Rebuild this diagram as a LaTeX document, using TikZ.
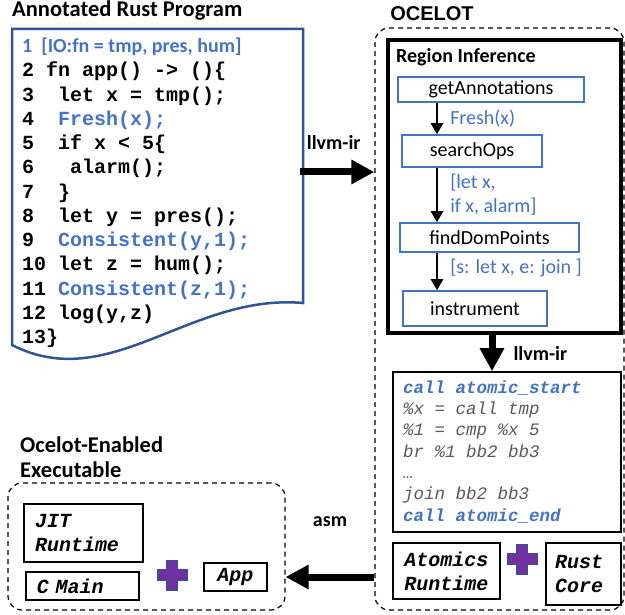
\documentclass[tikz,border=0pt]{standalone}
\usepackage{fontspec}
\setmainfont{Carlito}
\newfontfamily\codefont{Liberation Mono}
\newfontfamily\headfont{Liberation Sans}
\usetikzlibrary{matrix,arrows.meta}

\definecolor{ocblue}{HTML}{4472C4}
\definecolor{docblue}{HTML}{2F5597}
\definecolor{ocpurple}{HTML}{7030A0}
\definecolor{irgray}{HTML}{595959}

\begin{document}
\begin{tikzpicture}[x=1pt, y=-1pt,
  every node/.style={font=\fontsize{20}{24}\selectfont},
  title/.style={font=\bfseries\fontsize{22.5}{25}\selectfont, inner sep=2pt},
  edgelbl/.style={font=\bfseries\fontsize{20}{24}\selectfont, inner sep=0pt},
  stage/.style={draw=ocblue, line width=1.5pt, inner sep=0pt},
  plain/.style={draw, line width=1.5pt, inner sep=0pt},
  group/.style={draw, dash pattern=on 5pt off 4pt, line width=1.2pt, rounded corners=14pt, inner sep=0pt},
  lbl/.style={text=ocblue, inner sep=0pt, align=left},
  mono/.style={font=\codefont\bfseries\itshape\fontsize{20}{24}\selectfont},
  bigarrow/.style={line width=7pt, -{Triangle[length=23pt, width=23pt]}},
  thinarrow/.style={line width=2.5pt, -{Triangle[length=11pt, width=12pt]}},
  pics/plus/.style={code={
    \draw[draw=docblue, fill=ocpurple, line width=1pt]
      (-5.5,-15) -- (5.5,-15) -- (5.5,-5.5) -- (15,-5.5) -- (15,5.5) -- (5.5,5.5)
      -- (5.5,15) -- (-5.5,15) -- (-5.5,5.5) -- (-15,5.5) -- (-15,-5.5) -- (-5.5,-5.5) -- cycle;}}
  ]
  \useasboundingbox (0,0) rectangle (625,615);

  % annotated source
  \node (progtl) [title, anchor=west] at (10,11) {Annotated Rust Program};
  \draw[draw=docblue, line width=2.5pt] (12,29) -- (303,29) -- (303,303)
    .. controls (190,293) and (110,395) .. (12,345) -- cycle;
  \coordinate (docR) at (300,172);
  \matrix (prog) [matrix of nodes, anchor=north west, inner sep=0pt, row sep=4.25pt,
    nodes={anchor=base west, inner sep=0pt, text height=15pt, text depth=5pt,
      font=\codefont\bfseries\fontsize{20}{24}\selectfont}] at (22,37.5)
  {
    |[font=\bfseries\fontsize{20}{24}\selectfont, text=ocblue]| 1\ \ [IO:fn = tmp, pres, hum] \\
    2 fn app() -> ()\{ \\
    3~~let x = tmp(); \\
    4~~\textcolor{ocblue}{Fresh(x);} \\
    5~~if x < 5\{ \\
    6~~~alarm(); \\
    7~~\} \\
    8~~let y = pres(); \\
    9~~\textcolor{ocblue}{Consistent(y,1);} \\
    10 let z = hum(); \\
    11 \textcolor{ocblue}{Consistent(z,1);} \\
    12 log(y,z) \\
    13\} \\
  };

  % compiler
  \node (ocetl) [font=\headfont\bfseries\fontsize{20}{24}\selectfont] at (432,14) {OCELOT};
  \node (ocelot) [group, minimum width=249pt, minimum height=582pt] at (499.5,319) {};
  \node (ri) [draw, line width=4pt, minimum width=233pt, minimum height=293pt] at (504.5,186.5) {};
  \node (ritl) [edgelbl, anchor=west] at (396,57) {Region Inference};
  \node (ga) [stage, minimum width=186pt, minimum height=25pt] at (491,89.5) {getAnnotations};
  \node (so) [stage, minimum width=140pt, minimum height=32pt] at (472,151) {searchOps};
  \node (fd) [stage, minimum width=179pt, minimum height=29pt] at (489.5,237.5) {findDomPoints};
  \node (in) [stage, minimum width=144pt, minimum height=35pt] at (475,308.5) {instrument};
  \coordinate (spine) at (437,0);
  \draw[thinarrow] (ga.south -| spine) -- (so.north -| spine)
    node [lbl, midway, anchor=west, xshift=12pt] {Fresh(x)};
  \draw[thinarrow] (so.south -| spine) -- (fd.north -| spine)
    node [lbl, midway, anchor=west, xshift=12pt] {[let x,\\if x, alarm]};
  \draw[thinarrow] (fd.south -| spine) -- (in.north -| spine)
    node [lbl, pos=0.4, anchor=west, xshift=12pt] {[s: let x, e: join ]};

  \node (ir) [plain, minimum width=228pt, minimum height=160pt] at (507,452) {};
  \matrix (irc) [matrix of nodes, anchor=north west, inner sep=0pt, row sep=4.3pt,
    irblue/.style={text=ocblue, font=\codefont\bfseries\itshape\fontsize{17.5}{21}\selectfont},
    nodes={anchor=base west, inner sep=0pt, text height=13pt, text depth=4pt, text=irgray,
      font=\codefont\itshape\fontsize{17.5}{21}\selectfont}] at (403,380)
  {
    |[irblue]| call atomic\_start \\
    \%x = call tmp \\
    \%1 = cmp \%x 5 \\
    br \%1 bb2 bb3 \\
    … \\
    join bb2 bb3 \\
    |[irblue]| call atomic\_end \\
  };
  \coordinate (irx) at (492,0);
  \draw[bigarrow] (ri.south -| irx) -- (ir.north -| irx)
    node [edgelbl, midway, anchor=west, xshift=18pt] {llvm-ir};

  \node (atom) [plain, mono, align=center, minimum width=107pt, minimum height=56pt] at (446.5,571) {Atomics\\Runtime};
  \pic at (522,559) {plus};
  \node (rcore) [plain, mono, align=left, text width=57pt, inner xsep=9pt, minimum height=62pt] at (583.5,574) {Rust\\Core};

  % executable
  \node (exetl) [title, anchor=west, align=left] at (18,457.5) {Ocelot-Enabled\\Executable};
  \node (exe) [group, minimum width=277pt, minimum height=127pt] at (146.5,546.5) {};
  \node (jit) [plain, mono, align=left, text width=97pt, inner xsep=11pt, minimum height=58pt] at (83.5,533) {JIT\\Runtime};
  \node (cmain) [plain, mono, align=left, text width=91pt, inner xsep=11pt, minimum height=28pt] at (82.5,586) {C Main};
  \pic at (172,575) {plus};
  \node (app) [plain, mono, minimum width=63pt, minimum height=28pt] at (235.5,577) {App};

  \draw[bigarrow] (docR) -- (docR -| ocelot.west)
    node [edgelbl, midway, xshift=-3.5pt, yshift=30pt] {llvm-ir};
  \draw[bigarrow] (ocelot.west |- app) -- (exe.east |- app)
    node [edgelbl, midway, yshift=55pt] {asm};
\end{tikzpicture}
\end{document}
